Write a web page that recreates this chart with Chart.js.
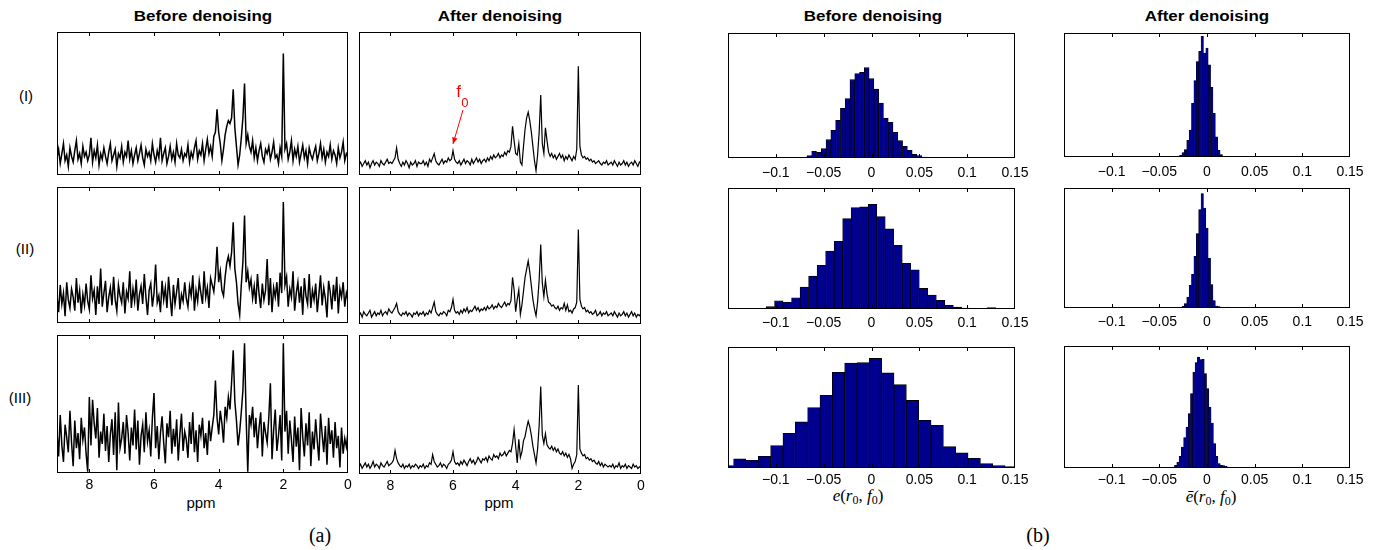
<!DOCTYPE html>
<html>
<head>
<meta charset="utf-8">
<script src="https://cdn.jsdelivr.net/npm/chart.js@4.4.0/dist/chart.umd.min.js"></script>
<style>
  body { margin: 0; background: #fff; }
  #fig { position: relative; width: 1388px; height: 550px; overflow: hidden; font-family: "Liberation Sans", Arial, sans-serif; color: #000; }
  .panel { position: absolute; }
  .t { position: absolute; white-space: nowrap; line-height: 1; transform: translate(-50%, -50%); }
  .title { font-weight: bold; font-size: 15px; transform: translate(-50%, -50%) scaleX(1.13); }
  .row { font-size: 15px; }
  .ppm { font-size: 15px; }
  .cap { font-family: "Liberation Serif", serif; font-size: 20px; }
  .math { font-family: "Liberation Serif", serif; font-size: 17px; }
  .math sub { font-size: 12px; font-style: normal; vertical-align: -3px; }
</style>
</head>
<body>
<div id="fig">
  <div class="t title" style="left:203px;top:15px">Before denoising</div>
  <div class="t title" style="left:500px;top:15px">After denoising</div>
  <div class="t title" style="left:873px;top:15px">Before denoising</div>
  <div class="t title" style="left:1207px;top:15px">After denoising</div>

  <div class="t row" style="left:26px;top:95px">(I)</div>
  <div class="t row" style="left:25px;top:248px">(II)</div>
  <div class="t row" style="left:20px;top:397px">(III)</div>

  <div class="t ppm" style="left:201px;top:502px">ppm</div>
  <div class="t ppm" style="left:499px;top:502px">ppm</div>

  <div class="t math" style="left:858px;top:496px"><i>e</i>(<i>r</i><sub>0</sub>, <i>f</i><sub>0</sub>)</div>
  <div class="t math" style="left:1211px;top:497px"><i>ē</i>(<i>r</i><sub>0</sub>, <i>f</i><sub>0</sub>)</div>

  <div class="t cap" style="left:320px;top:535px">(a)</div>
  <div class="t cap" style="left:1038px;top:535px">(b)</div>
</div>
<script>
// ---- tick labels ----
const PPM_TICKS = [8, 6, 4, 2, 0];
const HIST_TICKS = [-0.1, -0.05, 0, 0.05, 0.1, 0.15];
const HIST_TICK_LABELS = ['\u22120.1', '\u22120.05', '0', '0.05', '0.1', '0.15'];

// chemical shift grid, 9 ppm down to 0 ppm in 0.05 steps
const PPM = [];
for (let i = 0; i <= 180; i++) PPM.push(+(9 - i * 0.05).toFixed(2));

// ---- spectra (% of panel height), one value per PPM point ----
const SPEC_I_BEFORE = [
  12,18,8,15,22,10,14,6,19,13,9,17,24,11,15,8,20,13,16,10,
  14,26,9,17,12,21,7,15,11,19,13,8,16,22,10,14,18,6,15,12,
  20,9,16,13,24,11,17,8,14,19,10,15,21,12,7,18,13,16,10,22,
  14,9,17,12,26,10,15,19,8,13,20,11,16,9,22,14,12,18,10,15,
  13,21,9,16,12,19,24,11,17,14,22,10,18,25,15,20,13,27,30,46,
  30,22,10,18,28,34,38,36,40,60,33,20,7,14,26,40,64,22,28,20,
  16,24,12,19,10,17,22,13,9,18,15,20,11,16,23,12,14,8,19,13,
  85,18,22,11,16,24,10,18,13,20,9,15,21,12,17,8,19,14,11,16,
  20,10,15,22,12,18,9,16,13,21,11,17,14,8,19,12,16,23,10,15,13
];
const SPEC_I_AFTER = [
  7,9,6,8,10,7,9,5,8,10,7,9,8,6,10,8,7,9,11,8,
  9,8,10,12,19,11,8,6,9,7,10,8,5,9,7,8,10,6,9,8,
  8,10,7,9,6,11,9,12,15,10,8,7,9,11,8,10,9,12,10,11,
  17,11,9,8,10,7,9,11,8,10,9,7,11,8,10,12,9,11,8,10,
  11,9,12,10,13,11,14,12,13,15,12,14,13,16,14,17,16,20,34,24,
  15,14,22,9,7,20,32,40,44,38,30,20,10,3,14,30,56,22,15,33,
  24,16,13,15,12,14,11,13,15,12,14,10,13,11,14,12,10,13,11,18,
  76,20,14,12,13,11,12,10,11,9,10,8,9,10,8,7,9,8,10,7,
  8,9,7,10,8,6,9,7,8,10,7,9,6,8,9,7,10,8,6,9,8
];
const SPEC_II_BEFORE = [
  20,8,28,14,22,5,30,17,11,25,19,9,33,15,24,7,21,13,29,16,
  10,35,18,24,6,27,14,40,12,22,31,8,19,26,13,34,17,9,28,20,
  15,30,7,23,18,38,11,25,16,32,9,21,27,14,36,19,6,24,29,12,
  22,43,15,20,8,31,17,26,11,34,19,5,28,14,23,33,10,21,16,30,
  18,12,27,20,35,9,24,16,31,22,14,38,19,26,11,33,28,23,35,56,
  30,38,24,20,34,44,49,42,52,74,40,30,14,6,28,45,79,30,38,26,
  32,18,27,14,36,21,11,29,17,24,47,13,33,8,26,19,30,12,37,22,
  89,28,34,12,25,19,38,9,22,30,15,27,6,33,20,14,36,11,24,17,
  29,8,21,35,13,26,18,4,31,23,10,28,16,34,7,25,19,30,12,22,17
];
const SPEC_II_AFTER = [
  6,8,5,9,7,6,8,10,5,7,9,6,8,7,10,6,8,9,7,11,
  9,8,10,12,15,9,7,6,8,7,9,6,8,7,5,8,7,9,6,8,
  7,9,6,8,7,10,8,12,16,9,7,6,8,7,9,8,6,10,9,12,
  18,10,8,9,7,10,8,11,9,12,8,10,9,11,13,10,12,9,11,10,
  12,10,13,11,12,14,11,13,12,15,13,12,14,16,13,15,14,17,34,25,
  9,18,25,7,14,24,34,40,46,38,28,18,11,6,16,32,58,30,20,32,
  22,16,15,13,14,12,11,13,10,12,11,15,10,14,9,10,8,11,12,16,
  69,18,13,11,12,9,10,8,9,7,8,10,6,7,9,6,8,7,9,6,
  7,8,6,9,7,5,8,6,7,9,6,8,5,7,9,6,8,5,7,6,8
];
const SPEC_III_BEFORE = [
  30,12,42,20,8,35,26,15,45,22,5,38,18,29,10,40,24,33,14,1,
  55,20,53,36,25,47,11,30,21,43,16,34,8,28,39,13,44,2,51,18,
  25,37,14,42,29,9,33,20,46,17,38,6,27,35,15,44,23,31,12,40,
  58,18,34,10,29,41,22,7,36,26,45,14,32,19,39,9,28,43,16,30,
  24,11,37,21,44,15,31,8,35,27,40,18,29,13,38,23,33,42,67,40,
  28,45,36,22,48,40,55,46,66,89,52,38,20,30,44,60,94,40,1,42,
  35,48,26,40,18,33,44,12,37,29,22,40,65,10,31,46,16,27,42,9,
  94,30,45,14,38,24,8,41,19,33,2,47,26,12,36,20,44,5,30,17,
  39,23,9,43,28,15,34,6,40,21,31,11,37,18,27,4,33,14,25,19,30
];
const SPEC_III_AFTER = [
  5,7,4,6,8,5,7,4,6,9,5,7,6,4,8,6,5,7,9,6,
  7,8,10,17,11,8,6,5,7,4,6,5,7,4,6,5,7,6,4,6,
  5,7,4,6,5,8,7,14,9,7,5,6,8,5,7,6,4,7,8,10,
  16,9,7,8,6,9,7,10,8,6,9,11,8,10,7,9,12,10,8,11,
  10,12,9,13,11,10,14,12,13,11,15,13,14,16,13,15,17,16,22,32,
  20,8,25,12,16,24,27,33,38,34,28,20,14,8,18,35,63,28,22,29,
  21,19,18,20,17,19,16,18,15,14,16,13,15,12,14,11,4,7,9,14,
  64,18,15,13,14,11,12,10,11,9,10,8,7,9,6,8,5,7,6,5,
  6,5,7,4,6,5,8,4,6,5,7,4,6,5,4,7,5,6,4,5,6
];

// ---- histograms: bin centres and counts ----
const HIST_I_BEFORE_X = [-0.08,-0.075,-0.07,-0.065,-0.06,-0.055,-0.05,-0.045,-0.04,-0.035,-0.03,-0.025,-0.02,-0.015,-0.01,-0.005,0,0.005,0.01,0.015,0.02,0.025,0.03,0.035,0.04,0.045,0.05,0.055,0.06,0.065,0.07];
const HIST_I_BEFORE_Y = [1,1,2,7,20,17,28,55,83,113,149,178,235,253,257,271,238,207,165,119,107,77,52,35,23,11,7,3,2,1,1];

const HIST_I_AFTER_X = [-0.04,-0.0375,-0.035,-0.0325,-0.03,-0.0275,-0.025,-0.0225,-0.02,-0.0175,-0.015,-0.0125,-0.01,-0.0075,-0.005,-0.0025,0,0.0025,0.005,0.0075,0.01,0.0125,0.015,0.0175,0.02];
const HIST_I_AFTER_Y = [1,1,1,2,3,5,13,22,50,80,160,228,285,315,360,310,325,275,208,130,60,20,7,2,1];

const HIST_II_BEFORE_X = [-0.1325,-0.1236,-0.1147,-0.1058,-0.0969,-0.088,-0.0791,-0.0702,-0.0613,-0.0524,-0.0435,-0.0346,-0.0257,-0.0168,-0.0079,0.001,0.0099,0.0188,0.0277,0.0366,0.0455,0.0544,0.0633,0.0722,0.0811,0.09,0.0989,0.1078,0.1167,0.1256,0.1345];
const HIST_II_BEFORE_Y = [2,2,2,7,25,20,34,66,99,132,175,204,273,306,308,316,279,242,192,138,118,62,42,26,11,6,3,2,1,4,1];

const HIST_II_AFTER_X = [-0.0275,-0.025,-0.0225,-0.02,-0.0175,-0.015,-0.0125,-0.01,-0.0075,-0.005,-0.0025,0,0.0025,0.005,0.0075,0.01,0.0125,0.015,0.0175,0.02,0.0225];
const HIST_II_AFTER_Y = [2,5,13,33,68,101,155,223,295,343,300,240,150,70,22,6,4,2,1,1,3];

const HIST_III_BEFORE_X = [-0.1506,-0.1377,-0.1248,-0.1119,-0.099,-0.0861,-0.0732,-0.0603,-0.0474,-0.0345,-0.0216,-0.0087,0.0042,0.0171,0.03,0.0429,0.0558,0.0687,0.0816,0.0945,0.1074,0.1203,0.1332,0.1461];
const HIST_III_BEFORE_Y = [7,27,23,35,67,103,137,180,216,285,312,314,326,283,248,201,142,127,64,45,29,13,7,4];

const HIST_III_AFTER_X = [-0.0353,-0.0329,-0.0305,-0.0281,-0.0257,-0.0233,-0.0209,-0.0185,-0.0161,-0.0137,-0.0113,-0.0089,-0.0065,-0.0041,-0.0017,0.0007,0.0031,0.0055,0.0079,0.0103,0.0127,0.0151,0.0175,0.0199,0.0223,0.0247];
const HIST_III_AFTER_Y = [3,8,18,35,63,91,123,163,223,288,316,333,325,326,283,238,183,135,73,35,13,8,7,5,3,2];

// f0 marker in panel (I), after denoising
const F0_TEXT_AT = [5.9, 54.5];
const F0_ARROW = [[5.68, 45.5], [6.0, 21.7]];

const BAR_FILL = '#00008f';
const SIDE = 24, TOPPAD = 6, AXIS_H = 34;
const fig = document.getElementById('fig');

// MATLAB style box with inward ticks on top and bottom
const boxTicks = {
  id: 'boxTicks',
  afterDatasetsDraw(chart) {
    const { ctx, chartArea: a, scales: { x } } = chart;
    ctx.save();
    ctx.strokeStyle = '#000';
    ctx.lineWidth = 1;
    ctx.beginPath();
    x.ticks.forEach(t => {
      const px = Math.round(x.getPixelForValue(t.value)) + 0.5;
      if (px <= a.left + 2 || px >= a.right - 2) return;
      ctx.moveTo(px, a.bottom); ctx.lineTo(px, a.bottom - 4);
      ctx.moveTo(px, a.top); ctx.lineTo(px, a.top + 4);
    });
    ctx.stroke();
    ctx.strokeRect(Math.round(a.left) + 0.5, Math.round(a.top) + 0.5, Math.round(a.width) - 1, Math.round(a.height) - 1);
    ctx.restore();
  }
};

const f0Arrow = {
  id: 'f0Arrow',
  afterDatasetsDraw(chart) {
    const { ctx, scales: { x, y } } = chart;
    const x0 = x.getPixelForValue(F0_ARROW[0][0]), y0 = y.getPixelForValue(F0_ARROW[0][1]);
    const x1 = x.getPixelForValue(F0_ARROW[1][0]), y1 = y.getPixelForValue(F0_ARROW[1][1]);
    ctx.save();
    ctx.strokeStyle = '#f00';
    ctx.fillStyle = '#f00';
    ctx.lineWidth = 1;
    ctx.beginPath(); ctx.moveTo(x0, y0); ctx.lineTo(x1, y1); ctx.stroke();
    const ang = Math.atan2(y1 - y0, x1 - x0), L = 7, W = 0.4;
    ctx.beginPath();
    ctx.moveTo(x1, y1);
    ctx.lineTo(x1 - L * Math.cos(ang - W), y1 - L * Math.sin(ang - W));
    ctx.lineTo(x1 - L * Math.cos(ang + W), y1 - L * Math.sin(ang + W));
    ctx.closePath();
    ctx.fill();
    const tx = x.getPixelForValue(F0_TEXT_AT[0]), ty = y.getPixelForValue(F0_TEXT_AT[1]);
    ctx.textAlign = 'left';
    ctx.textBaseline = 'alphabetic';
    ctx.font = '17px "Liberation Sans"';
    ctx.fillText('f', tx, ty);
    const fw = ctx.measureText('f').width;
    ctx.font = '13px "Liberation Sans"';
    ctx.fillText('0', tx + fw + 0.5, ty + 10);
    ctx.restore();
  }
};

function placeCanvas(box) {
  const c = document.createElement('canvas');
  c.width = box.w + 2 * SIDE;
  c.height = box.h + TOPPAD + AXIS_H;
  c.className = 'panel';
  c.style.left = (box.x - SIDE) + 'px';
  c.style.top = (box.y - TOPPAD) + 'px';
  fig.appendChild(c);
  return c;
}

const tickFont = { family: '"Liberation Sans", Arial, sans-serif', size: 14 };

function spectrumChart(box, values, showTicks, lineW, extra) {
  return new Chart(placeCanvas(box), {
    type: 'line',
    data: {
      datasets: [{
        data: PPM.map((p, i) => ({ x: p, y: values[i] })),
        borderColor: '#000', borderWidth: lineW, pointRadius: 0, tension: 0, fill: false, clip: 0
      }]
    },
    options: {
      responsive: false, animation: false, events: [],
      layout: { padding: { left: SIDE, right: SIDE, top: TOPPAD, bottom: 0 } },
      plugins: { legend: { display: false }, tooltip: { enabled: false } },
      scales: {
        x: {
          type: 'linear', reverse: true, min: 0, max: 9,
          afterBuildTicks: s => { s.ticks = PPM_TICKS.map(v => ({ value: v })); },
          afterFit: s => { s.height = AXIS_H; },
          grid: { display: false, drawTicks: false }, border: { display: false },
          ticks: { display: showTicks, padding: 4, color: '#000', font: tickFont, maxRotation: 0, autoSkip: false }
        },
        y: { display: false, min: 0, max: 100 }
      }
    },
    plugins: [boxTicks].concat(extra || [])
  });
}

function histChart(box, centers, counts, yMax, tickPad, edge) {
  return new Chart(placeCanvas(box), {
    type: 'bar',
    data: {
      datasets: [{
        data: centers.map((c, i) => ({ x: c, y: counts[i] })),
        backgroundColor: BAR_FILL, borderColor: '#000', borderWidth: edge,
        barPercentage: 1, categoryPercentage: 1, clip: 0
      }]
    },
    options: {
      responsive: false, animation: false, events: [],
      layout: { padding: { left: SIDE, right: SIDE, top: TOPPAD, bottom: 0 } },
      plugins: { legend: { display: false }, tooltip: { enabled: false } },
      scales: {
        x: {
          type: 'linear', min: -0.15, max: 0.15, offset: false,
          afterBuildTicks: s => { s.ticks = HIST_TICKS.map(v => ({ value: v })); },
          afterFit: s => { s.height = AXIS_H; },
          grid: { display: false, drawTicks: false }, border: { display: false },
          ticks: { padding: tickPad, color: '#000', font: tickFont, maxRotation: 0, autoSkip: false,
                   callback: (v, i) => HIST_TICK_LABELS[i] }
        },
        y: { display: false, min: 0, max: yMax }
      }
    },
    plugins: [boxTicks]
  });
}

// spectra, panel (a)
spectrumChart({ x: 57, y: 32, w: 291, h: 143 }, SPEC_I_BEFORE, false, 1.5);
spectrumChart({ x: 359, y: 32, w: 282, h: 143 }, SPEC_I_AFTER, false, 1.2, [f0Arrow]);
spectrumChart({ x: 57, y: 187, w: 291, h: 136 }, SPEC_II_BEFORE, false, 1.5);
spectrumChart({ x: 359, y: 187, w: 282, h: 137 }, SPEC_II_AFTER, false, 1.2);
spectrumChart({ x: 57, y: 335, w: 291, h: 138 }, SPEC_III_BEFORE, true, 1.5);
spectrumChart({ x: 359, y: 335, w: 282, h: 139 }, SPEC_III_AFTER, true, 1.2);

// error histograms, panel (b)
histChart({ x: 728, y: 33, w: 287, h: 125 }, HIST_I_BEFORE_X, HIST_I_BEFORE_Y, 375, 7, 0.8);
histChart({ x: 1064, y: 33, w: 286, h: 124 }, HIST_I_AFTER_X, HIST_I_AFTER_Y, 370, 7, 0.5);
histChart({ x: 728, y: 188, w: 287, h: 121 }, HIST_II_BEFORE_X, HIST_II_BEFORE_Y, 365, 6, 0.8);
histChart({ x: 1064, y: 188, w: 286, h: 120 }, HIST_II_AFTER_X, HIST_II_AFTER_Y, 360, 6, 0.5);
histChart({ x: 728, y: 347, w: 287, h: 121 }, HIST_III_BEFORE_X, HIST_III_BEFORE_Y, 360, 4, 0.8);
histChart({ x: 1064, y: 346, w: 286, h: 122 }, HIST_III_AFTER_X, HIST_III_AFTER_Y, 366, 4, 0.5);
</script>
</body>
</html>
